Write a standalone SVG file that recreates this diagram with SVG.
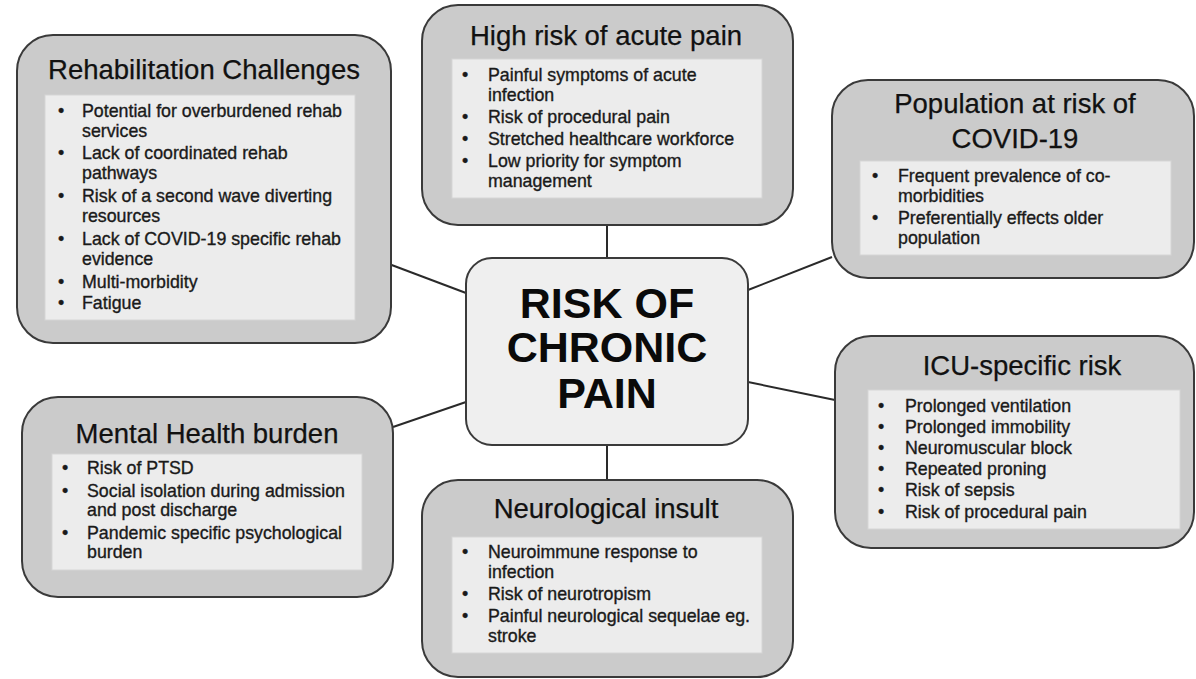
<svg xmlns="http://www.w3.org/2000/svg" width="1196" height="679" viewBox="0 0 1196 679">
<style>
.outer{fill:#cbcbcb;stroke:#3a3a3a;stroke-width:2}
.inner{fill:#ececec;stroke:#d6d6d6;stroke-width:1}
.center{fill:#efefef;stroke:#3a3a3a;stroke-width:2}
.title{font-family:"Liberation Sans",Arial,sans-serif;font-size:27.5px;fill:#111;stroke:#111;stroke-width:0.25;text-anchor:middle}
.txt{font-family:"Liberation Sans",Arial,sans-serif;font-size:17.8px;fill:#1a1a1a;stroke:#1a1a1a;stroke-width:0.35}
.big{font-family:"Liberation Sans",Arial,sans-serif;font-size:43px;font-weight:bold;fill:#0a0a0a;text-anchor:middle}
.conn{stroke:#2a2a2a;stroke-width:2;fill:none}
</style>
<rect width="1196" height="679" fill="#ffffff"/>
<g id="connectors">
<line class="conn" x1="607" y1="225" x2="607" y2="258"/>
<line class="conn" x1="607" y1="445" x2="607" y2="480"/>
<line class="conn" x1="389" y1="264" x2="466" y2="293"/>
<line class="conn" x1="748" y1="290" x2="832" y2="257"/>
<line class="conn" x1="393" y1="427" x2="466" y2="402"/>
<line class="conn" x1="748" y1="382" x2="835" y2="400"/>
</g>
<g id="rehab">
<rect class="outer" x="17" y="35" width="374" height="308" rx="36"/>
<rect class="inner" x="45" y="95" width="310" height="225"/>
<text class="title" x="204" y="79">Rehabilitation Challenges</text>
<g class="txt">
<text x="58" y="117">•</text><text x="82" y="117">Potential for overburdened rehab</text>
<text x="82" y="137">services</text>
<text x="58" y="159">•</text><text x="82" y="159">Lack of coordinated rehab</text>
<text x="82" y="179">pathways</text>
<text x="58" y="202">•</text><text x="82" y="202">Risk of a second wave diverting</text>
<text x="82" y="222">resources</text>
<text x="58" y="245">•</text><text x="82" y="245">Lack of COVID-19 specific rehab</text>
<text x="82" y="265">evidence</text>
<text x="58" y="288">•</text><text x="82" y="288">Multi-morbidity</text>
<text x="58" y="309">•</text><text x="82" y="309">Fatigue</text>
</g>
</g>
<g id="acute">
<rect class="outer" x="422" y="5" width="371" height="220" rx="36"/>
<rect class="inner" x="452" y="59" width="310" height="139"/>
<text class="title" x="606" y="45">High risk of acute pain</text>
<g class="txt">
<text x="462" y="81">•</text><text x="488" y="81">Painful symptoms of acute</text>
<text x="488" y="101">infection</text>
<text x="462" y="123">•</text><text x="488" y="123">Risk of procedural pain</text>
<text x="462" y="145">•</text><text x="488" y="145">Stretched healthcare workforce</text>
<text x="462" y="167">•</text><text x="488" y="167">Low priority for symptom</text>
<text x="488" y="187">management</text>
</g>
</g>
<g id="population">
<rect class="outer" x="832" y="80" width="362" height="198" rx="36"/>
<rect class="inner" x="860" y="161" width="311" height="94"/>
<text class="title" x="1015" y="113">Population at risk of</text>
<text class="title" x="1015" y="148">COVID-19</text>
<g class="txt">
<text x="872" y="182">•</text><text x="898" y="182">Frequent prevalence of co-</text>
<text x="898" y="202">morbidities</text>
<text x="872" y="224">•</text><text x="898" y="224">Preferentially effects older</text>
<text x="898" y="244">population</text>
</g>
</g>
<g id="icu">
<rect class="outer" x="835" y="336" width="359" height="212" rx="36"/>
<rect class="inner" x="868" y="390" width="312" height="139"/>
<text class="title" x="1022" y="375">ICU-specific risk</text>
<g class="txt">
<text x="878" y="412">•</text><text x="905" y="412">Prolonged ventilation</text>
<text x="878" y="433">•</text><text x="905" y="433">Prolonged immobility</text>
<text x="878" y="454">•</text><text x="905" y="454">Neuromuscular block</text>
<text x="878" y="475">•</text><text x="905" y="475">Repeated proning</text>
<text x="878" y="496">•</text><text x="905" y="496">Risk of sepsis</text>
<text x="878" y="518">•</text><text x="905" y="518">Risk of procedural pain</text>
</g>
</g>
<g id="mental">
<rect class="outer" x="22" y="397" width="371" height="200" rx="36"/>
<rect class="inner" x="52" y="454" width="310" height="116"/>
<text class="title" x="207" y="443">Mental Health burden</text>
<g class="txt">
<text x="62" y="474">•</text><text x="87" y="474">Risk of PTSD</text>
<text x="62" y="497">•</text><text x="87" y="497">Social isolation during admission</text>
<text x="87" y="516">and post discharge</text>
<text x="62" y="539">•</text><text x="87" y="539">Pandemic specific psychological</text>
<text x="87" y="558">burden</text>
</g>
</g>
<g id="neuro">
<rect class="outer" x="422" y="480" width="371" height="197" rx="36"/>
<rect class="inner" x="452" y="537" width="310" height="116"/>
<text class="title" x="606" y="518">Neurological insult</text>
<g class="txt">
<text x="462" y="558">•</text><text x="488" y="558">Neuroimmune response to</text>
<text x="488" y="578">infection</text>
<text x="462" y="600">•</text><text x="488" y="600">Risk of neurotropism</text>
<text x="462" y="622">•</text><text x="488" y="622">Painful neurological sequelae eg.</text>
<text x="488" y="642">stroke</text>
</g>
</g>
<g id="center">
<rect class="center" x="466" y="258" width="282" height="187" rx="26"/>
<text class="big" x="607" y="318">RISK OF</text>
<text class="big" x="607" y="362">CHRONIC</text>
<text class="big" x="607" y="408">PAIN</text>
</g>
</svg>
